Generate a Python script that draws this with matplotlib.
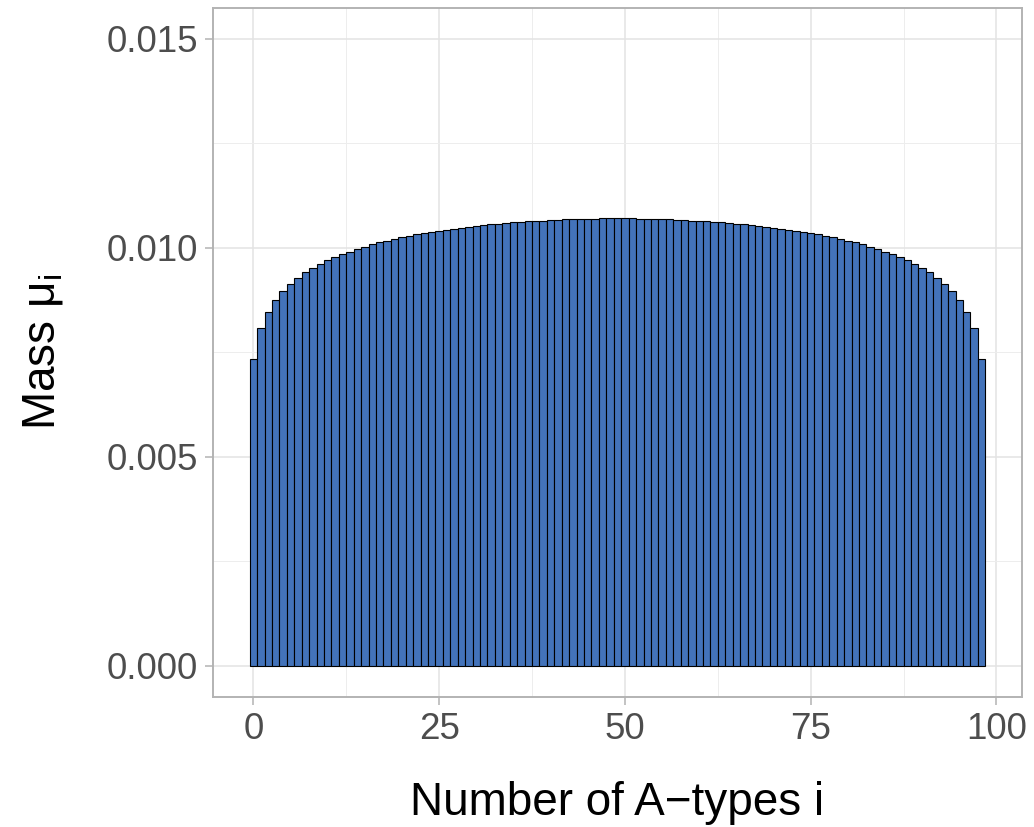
import matplotlib
matplotlib.use("Agg")
import matplotlib.pyplot as plt
from matplotlib.ticker import MultipleLocator, FixedLocator

plt.rcParams['font.family'] = ['Liberation Sans', 'DejaVu Sans']
plt.rcParams['mathtext.fontset'] = 'custom'
plt.rcParams['mathtext.rm'] = 'Liberation Sans'
plt.rcParams['mathtext.it'] = 'Liberation Sans'

# Number of A-types i
types_i = list(range(0, 99))
# Mass mu_i
mass = [
    0.00733, 0.00807, 0.00847, 0.00876, 0.00896, 0.00913, 0.00928, 0.00941, 0.00952, 0.00962,
    0.00970, 0.00978, 0.00985, 0.00991, 0.00997, 0.01003, 0.01008, 0.01013, 0.01017, 0.01021,
    0.01025, 0.01029, 0.01032, 0.01035, 0.01038, 0.01041, 0.01043, 0.01046, 0.01048, 0.01050,
    0.01052, 0.01054, 0.01056, 0.01058, 0.01059, 0.01061, 0.01062, 0.01063, 0.01064, 0.01065,
    0.01066, 0.01067, 0.01068, 0.01069, 0.01069, 0.01070, 0.01070, 0.01071, 0.01071, 0.01071,
    0.01071, 0.01071, 0.01070, 0.01070, 0.01069, 0.01069, 0.01068, 0.01067, 0.01066, 0.01065,
    0.01064, 0.01063, 0.01062, 0.01061, 0.01059, 0.01058, 0.01056, 0.01054, 0.01052, 0.01050,
    0.01048, 0.01046, 0.01043, 0.01041, 0.01038, 0.01035, 0.01032, 0.01029, 0.01025, 0.01021,
    0.01017, 0.01013, 0.01008, 0.01003, 0.00997, 0.00991, 0.00985, 0.00978, 0.00970, 0.00962,
    0.00952, 0.00941, 0.00928, 0.00913, 0.00896, 0.00876, 0.00847, 0.00807, 0.00733,
]
x_ticks = [0, 25, 50, 75, 100]
y_ticks = [0.000, 0.005, 0.010, 0.015]
y_tick_labels = ["0.000", "0.005", "0.010", "0.015"]

fig = plt.figure(figsize=(10.34, 8.27), dpi=100)
ax = fig.add_axes([213/1034, 1 - 697/827, (1022-213)/1034, (697-7.5)/827])

ax.bar(types_i, mass, width=1.0, color='#4373BA', edgecolor='black', linewidth=0.8, zorder=3)

ax.set_xlim(-5.45, 103.45)
ax.set_ylim(-0.00075, 0.01575)
ax.xaxis.set_major_locator(FixedLocator(x_ticks))
ax.xaxis.set_minor_locator(MultipleLocator(12.5))
ax.yaxis.set_major_locator(FixedLocator(y_ticks))
ax.set_yticklabels(y_tick_labels)
ax.yaxis.set_minor_locator(MultipleLocator(0.0025))

ax.grid(which='major', color='#E3E3E3', linewidth=1.1, zorder=0)
ax.grid(which='minor', color='#EDEDED', linewidth=0.7, zorder=0)
ax.set_axisbelow(True)

for s in ax.spines.values():
    s.set_color('#B3B3B3')
    s.set_linewidth(1.4)

ax.tick_params(which='major', length=6, width=1.1, color='#B3B3B3',
               labelsize=26.5, labelcolor='#4D4D4D', pad=5)
ax.tick_params(which='minor', length=0)

ax.set_xlabel('Number of A\u2212types i', fontsize=33, color='black', labelpad=24)
ax.set_ylabel(r'Mass $\mathregular{\mu_i}$', fontsize=33, color='black', labelpad=30)

fig.savefig('out.png', dpi=100)
